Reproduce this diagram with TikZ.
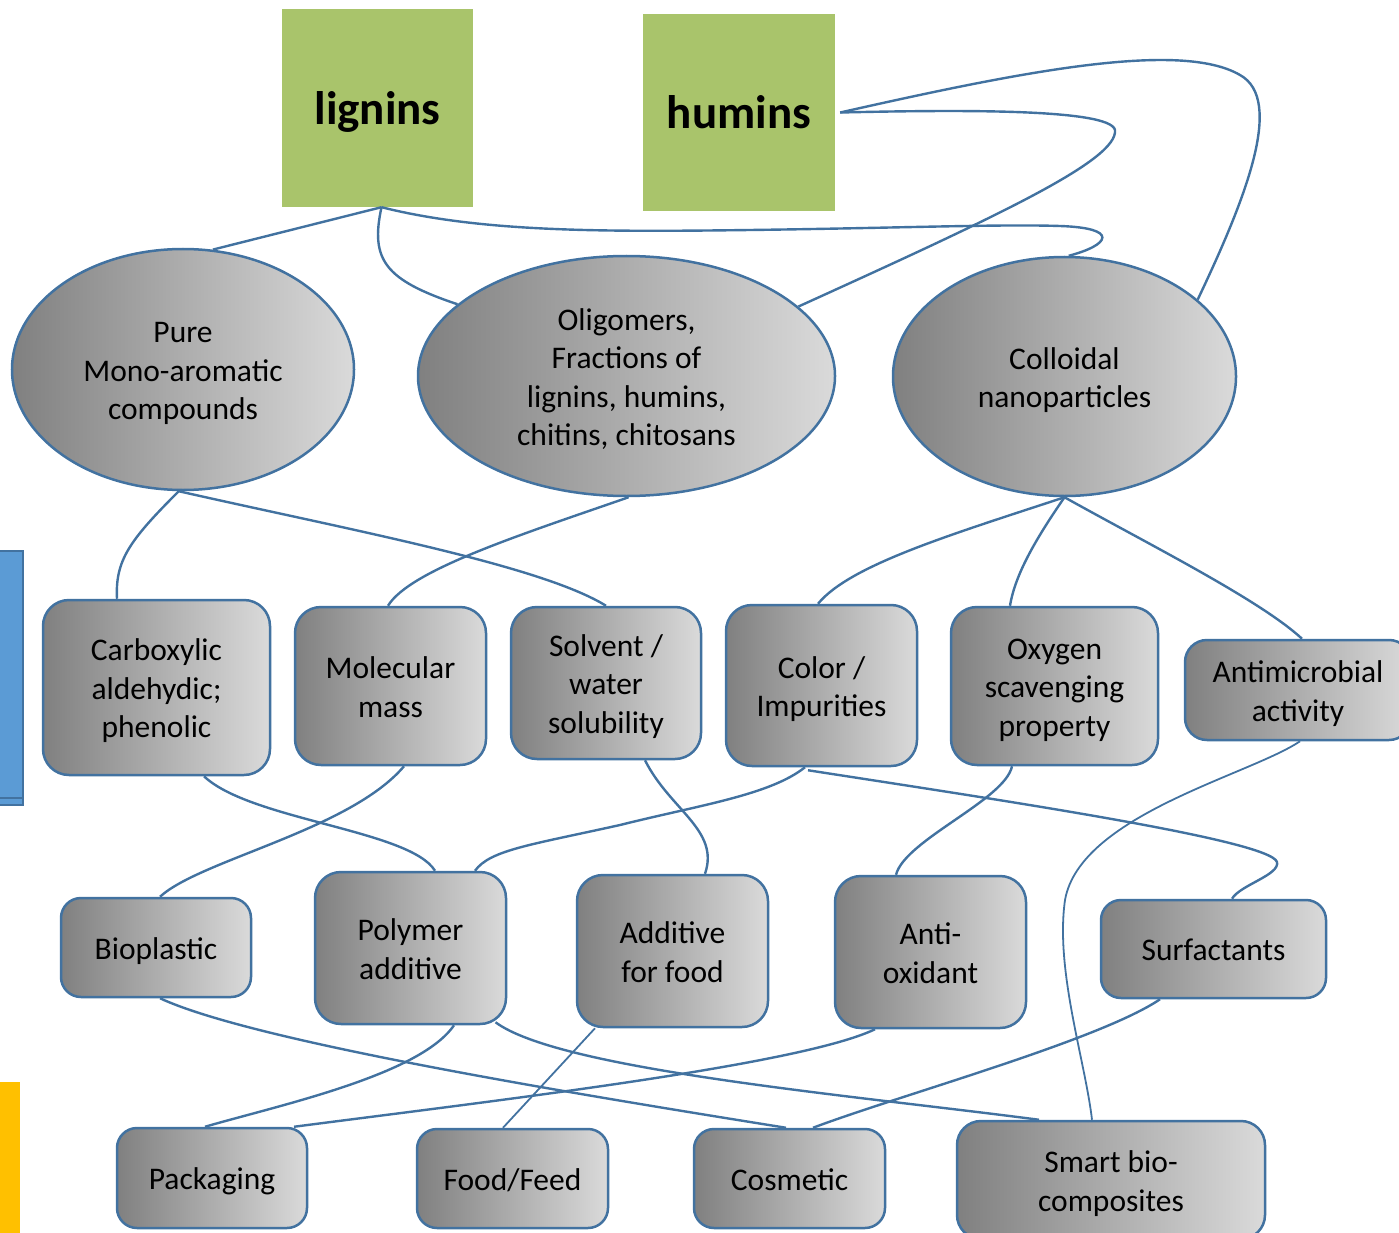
\documentclass[tikz,border=0pt]{standalone}
\usepackage{fontspec}
\setmainfont{Carlito}
\usetikzlibrary{shapes.geometric,calc}
\definecolor{lineblue}{RGB}{66,114,160}
\definecolor{gdark}{RGB}{128,128,128}
\definecolor{glight}{RGB}{218,218,218}
\definecolor{lgreen}{RGB}{169,196,107}
\definecolor{barblue}{RGB}{91,155,213}
\definecolor{baryellow}{RGB}{255,192,0}
\newcommand\topstrut{\rule{0pt}{32pt}}
\newcommand\botstrut{\rule[-8.5pt]{0pt}{8.5pt}}
\newcommand\bigtop{\rule{0pt}{44.7pt}}
\newcommand\bigbot{\rule[-12.6pt]{0pt}{12.6pt}}
\tikzset{
  conn/.style={draw=lineblue, line width=2.4pt},
  thinconn/.style={draw=lineblue, line width=1.8pt},
  txt/.style={font=\fontsize{31.5}{38.5}\selectfont, align=center, text=black},
  gbox/.style={txt, draw=lineblue, line width=2.5pt, rounded corners=26pt,
    left color=gdark, right color=glight, inner sep=0pt},
  gell/.style={txt, ellipse, draw=lineblue, line width=2.5pt,
    left color=gdark, right color=glight, inner sep=0pt},
  srcbox/.style={fill=lgreen, inner sep=0pt, font=\fontsize{47}{56}\selectfont\bfseries}
}
\begin{document}
\begin{tikzpicture}[x=1pt,y=-1pt]
\useasboundingbox (0,0) rectangle (1399,1233);
% side bars
\fill[barblue] (-5,551) rectangle (22.5,805);
\draw[lineblue, line width=2pt] (-5,551) rectangle (22.5,805);
\draw[lineblue, line width=2pt] (-5,798) -- (22.5,798);
\fill[baryellow] (-5,1082) rectangle (20,1240);
% source boxes
\node[srcbox, minimum width=191pt, minimum height=198pt] (lig) at (377.5,108) {\bigtop lignins\bigbot};
\node[srcbox, minimum width=192pt, minimum height=197pt] (hum) at (739,112.5) {\bigtop humins\bigbot};
% ellipses
\node[gell, minimum width=342pt, minimum height=241pt] (pure) at (183,369.5) {\topstrut Pure\\Mono-aromatic\\compounds\botstrut};
\node[gell, minimum width=417pt, minimum height=240pt] (olig) at (626.5,376) {\topstrut Oligomers,\\Fractions of\\lignins, humins,\\chitins, chitosans\botstrut};
\node[gell, minimum width=343pt, minimum height=239pt] (coll) at (1064.5,376.5) {\topstrut Colloidal\\nanoparticles\botstrut};
% row 1
\node[gbox, minimum width=227pt, minimum height=175pt] (carb) at (156.5,687.5) {\topstrut Carboxylic\\aldehydic;\\phenolic\botstrut};
\node[gbox, minimum width=191pt, minimum height=158pt] (mol) at (390.5,686) {\topstrut Molecular\\mass\botstrut};
\node[gbox, minimum width=190pt, minimum height=152pt] (solv) at (606,683) {\topstrut Solvent /\\water\\solubility\botstrut};
\node[gbox, minimum width=191pt, minimum height=161pt] (col) at (821.5,685.5) {\topstrut Color /\\Impurities\botstrut};
\node[gbox, minimum width=207pt, minimum height=158pt] (oxy) at (1054.5,686) {\topstrut Oxygen\\scavenging\\property\botstrut};
\node[gbox, minimum width=226pt, minimum height=100pt, rounded corners=22pt] (anti) at (1298,690) {\topstrut Antimicrobial\\activity\botstrut};
% row 2
\node[gbox, minimum width=190pt, minimum height=99pt, rounded corners=20pt] (bio) at (156,947.5) {\topstrut Bioplastic\botstrut};
\node[gbox, minimum width=191pt, minimum height=152pt] (poly) at (410.5,948) {\topstrut Polymer\\additive\botstrut};
\node[gbox, minimum width=191pt, minimum height=152pt] (addf) at (672.5,951) {\topstrut Additive\\for food\botstrut};
\node[gbox, minimum width=191pt, minimum height=152pt] (antiox) at (930.5,952) {\topstrut Anti-\\oxidant\botstrut};
\node[gbox, minimum width=225pt, minimum height=98pt, rounded corners=20pt] (surf) at (1213.5,949) {\topstrut Surfactants\botstrut};
% row 3
\node[gbox, minimum width=190pt, minimum height=100pt, rounded corners=20pt] (pack) at (212,1178) {\topstrut Packaging\botstrut};
\node[gbox, minimum width=191pt, minimum height=99pt, rounded corners=20pt] (food) at (512.5,1178.5) {\topstrut Food/Feed\botstrut};
\node[gbox, minimum width=191pt, minimum height=99pt, rounded corners=20pt] (cosm) at (789.5,1178.5) {\topstrut Cosmetic\botstrut};
\node[gbox, minimum width=308pt, minimum height=118pt, rounded corners=24pt] (smart) at (1111,1180) {\topstrut Smart bio-\\composites\botstrut};
% connectors: sources to ellipses
\draw[conn] ([xshift=4pt]lig.south) -- (pure.76);
\draw[conn] ([xshift=4pt]lig.south) .. controls (370,260) and (385,280) .. (olig.157);
\draw[conn] ([xshift=4pt]lig.south) .. controls (480,232) and (600,232) .. (750,230)
  .. controls (900,228) and (1000,224) .. (1060,226)
  .. controls (1120,228) and (1110,245) .. (coll.88);
\draw[conn] ([xshift=5pt]hum.east) .. controls (950,110) and (1110,108) .. (1115,130)
  .. controls (1118,160) and (1000,215) .. (olig.22);
\draw[conn] ([xshift=5pt]hum.east) .. controls (1020,72) and (1180,40) .. (1240,75)
  .. controls (1285,100) and (1245,200) .. (coll.30);
% ellipses to row 1
\draw[conn] (pure.268) .. controls (130,540) and (115,560) .. ([xshift=-39.5pt]carb.north);
\draw[conn] (pure.268) .. controls (350,530) and (540,565) .. (solv.north);
\draw[conn] (olig.271) .. controls (520,535) and (410,570) .. ([xshift=-2.5pt]mol.north);
\draw[conn] (coll.south) .. controls (950,535) and (850,565) .. ([xshift=-3.5pt]col.north);
\draw[conn] (coll.south) .. controls (1035,540) and (1015,575) .. ([xshift=-44.5pt]oxy.north);
\draw[conn] (coll.south) .. controls (1150,545) and (1260,600) .. ([xshift=4pt]anti.north);
% row 1 to row 2
\draw[conn] ([xshift=47.5pt]carb.south) .. controls (250,820) and (410,830) .. ([xshift=24.5pt]poly.north);
\draw[conn] ([xshift=13.5pt]mol.south) .. controls (350,830) and (200,860) .. ([xshift=4pt]bio.north);
\draw[conn] ([xshift=39pt]solv.south) .. controls (670,810) and (720,830) .. ([xshift=32.5pt]addf.north);
\draw[conn] ([xshift=-16.5pt]col.south) .. controls (770,795) and (700,805) .. (620,825)
  .. controls (530,845) and (490,850) .. ([xshift=64.5pt]poly.north);
\draw[conn] ([xshift=-13.5pt,yshift=-3pt]col.south) .. controls (1000,800) and (1270,840) .. (1277,862)
  .. controls (1280,875) and (1240,885) .. ([xshift=18.5pt]surf.north);
\draw[conn] ([xshift=-42.5pt]oxy.south) .. controls (1005,800) and (905,840) .. ([xshift=-34.5pt]antiox.north);
\draw[thinconn] ([xshift=2pt]anti.south) .. controls (1250,775) and (1080,815) .. (1065,900)
  .. controls (1055,970) and (1085,1060) .. ([xshift=-19pt]smart.north);
% row 2 to row 3
\draw[conn] ([xshift=4pt]bio.south) .. controls (250,1040) and (550,1090) .. ([xshift=-3.5pt]cosm.north);
\draw[conn] ([xshift=43.5pt]poly.south) .. controls (420,1075) and (280,1105) .. ([xshift=-7pt]pack.north);
\draw[conn] ([xshift=85pt,yshift=3pt]poly.south) .. controls (560,1070) and (850,1095) .. ([xshift=-72pt]smart.north);
\draw[thinconn] ([xshift=-77.5pt]addf.south) -- ([xshift=-9.5pt]food.north);
\draw[conn] ([xshift=-55.5pt]antiox.south) .. controls (800,1065) and (500,1100) .. ([xshift=82pt]pack.north);
\draw[conn] ([xshift=-53.5pt]surf.south) .. controls (1100,1040) and (900,1095) .. ([xshift=23.5pt]cosm.north);
\end{tikzpicture}
\end{document}
